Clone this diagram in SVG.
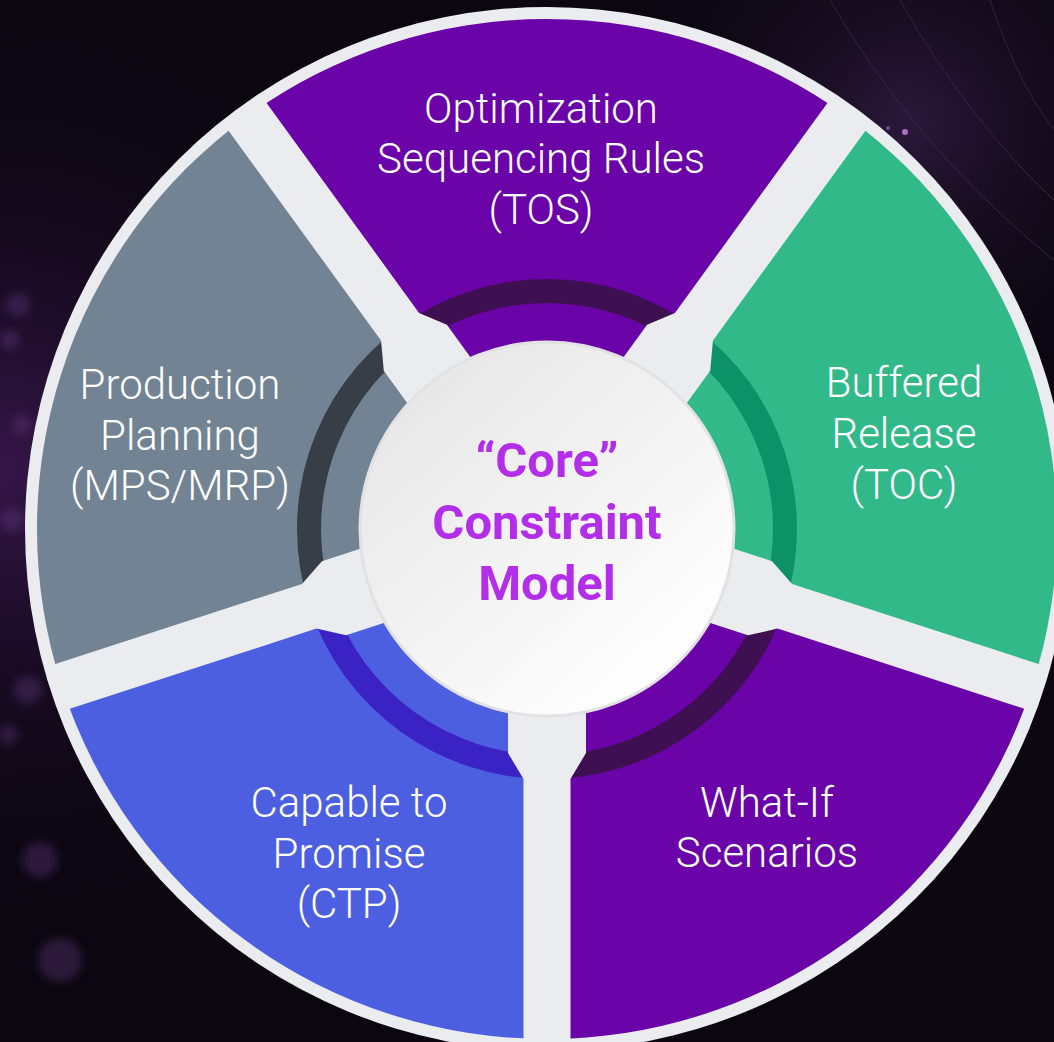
<svg xmlns="http://www.w3.org/2000/svg" width="1054" height="1042" viewBox="0 0 1054 1042">
  <defs>
    <radialGradient id="glowL" cx="0" cy="0.45" r="0.45">
      <stop offset="0" stop-color="#3a1850" stop-opacity="0.9"/>
      <stop offset="1" stop-color="#0b0610" stop-opacity="0"/>
    </radialGradient>
    <radialGradient id="glowTR" cx="0.86" cy="0.12" r="0.3">
      <stop offset="0" stop-color="#2e1a3e" stop-opacity="0.9"/>
      <stop offset="1" stop-color="#0b0610" stop-opacity="0"/>
    </radialGradient>
    <linearGradient id="hubGrad" x1="0.15" y1="0.1" x2="0.85" y2="0.9">
      <stop offset="0" stop-color="#e7e7e8"/>
      <stop offset="1" stop-color="#ffffff"/>
    </linearGradient>
    <filter id="blur" x="-50%" y="-50%" width="200%" height="200%">
      <feGaussianBlur stdDeviation="4"/>
    </filter>
  </defs>
  <style>
    .label { font-family: Roboto, "Liberation Sans", sans-serif; font-weight: 300; font-size: 42px; fill: #ffffff; text-anchor: middle; }
    .core { font-family: Roboto, "Liberation Sans", sans-serif; font-weight: 700; font-size: 49px; fill: #b22ee8; text-anchor: middle; }
    .spoke { fill: #ebecef; }
    .bokeh { fill: #6a3c8a; opacity: 0.35; filter: url(#blur); }
  </style>

  <!-- background -->
  <rect x="0" y="0" width="1054" height="1042" fill="#0b0610"/>
  <rect x="0" y="0" width="1054" height="1042" fill="url(#glowL)"/>
  <rect x="0" y="0" width="1054" height="1042" fill="url(#glowTR)"/>
  <g id="bokeh">
    <circle class="bokeh" cx="18" cy="305" r="12"/>
    <circle class="bokeh" cx="10" cy="340" r="10"/>
    <circle class="bokeh" cx="105" cy="360" r="12"/>
    <circle class="bokeh" cx="22" cy="425" r="10"/>
    <circle class="bokeh" cx="12" cy="520" r="12"/>
    <circle class="bokeh" cx="28" cy="690" r="14"/>
    <circle class="bokeh" cx="8" cy="735" r="10"/>
    <circle class="bokeh" cx="40" cy="860" r="18" opacity="0.2"/>
    <circle class="bokeh" cx="60" cy="960" r="22" opacity="0.15"/>
    <circle cx="905" cy="132" r="3" fill="#c98ae8" opacity="0.8"/>
    <circle cx="888" cy="128" r="2" fill="#a070c8" opacity="0.6"/>
  </g>
  <g id="streaks" fill="none" stroke="#3a2a4c" stroke-width="1.2" opacity="0.6">
    <path d="M830 0 C 900 120, 980 200, 1054 260"/>
    <path d="M900 0 C 950 90, 1010 160, 1054 200"/>
    <path d="M990 0 C 1010 60, 1030 100, 1054 130"/>
  </g>

  <!-- wheel base -->
  <circle id="wheel" cx="547" cy="529" r="522" fill="#ebecef"/>

  <!-- segments -->
  <g id="node-tos">
    <path d="M547 529 L247.23 116.40 A510 510 0 0 1 846.77 116.40 Z" fill="#6a04a8"/>
    <path d="M400.05 326.75 A250 250 0 0 1 693.95 326.75 L679.84 346.16 A226 226 0 0 0 414.16 346.16 Z" fill="#3e1052"/>
    <text class="label" x="541" y="123">Optimization</text>
    <text class="label" x="541" y="173">Sequencing Rules</text>
    <text class="label" x="541" y="224">(TOS)</text>
  </g>
  <g id="node-toc">
    <path d="M547 529 L846.77 116.40 A510 510 0 0 1 1032.04 686.60 Z" fill="#32b98a"/>
    <path d="M693.95 326.75 A250 250 0 0 1 784.76 606.25 L761.94 598.84 A226 226 0 0 0 679.84 346.16 Z" fill="#0d9166"/>
    <text class="label" x="904" y="397">Buffered</text>
    <text class="label" x="904" y="448">Release</text>
    <text class="label" x="904" y="499">(TOC)</text>
  </g>
  <g id="node-whatif">
    <path d="M547 529 L1032.04 686.60 A510 510 0 0 1 547 1039 Z" fill="#6a04a8"/>
    <path d="M784.76 606.25 A250 250 0 0 1 547 779 L547 755 A226 226 0 0 0 761.94 598.84 Z" fill="#3e1052"/>
    <text class="label" x="767" y="817">What-If</text>
    <text class="label" x="767" y="867">Scenarios</text>
  </g>
  <g id="node-ctp">
    <path d="M547 529 L547 1039 A510 510 0 0 1 61.96 686.60 Z" fill="#4c5fe0"/>
    <path d="M547 779 A250 250 0 0 1 309.24 606.25 L332.06 598.84 A226 226 0 0 0 547 755 Z" fill="#3b22c4"/>
    <text class="label" x="349" y="817">Capable to</text>
    <text class="label" x="349" y="868">Promise</text>
    <text class="label" x="349" y="918">(CTP)</text>
  </g>
  <g id="node-mps">
    <path d="M547 529 L61.96 686.60 A510 510 0 0 1 247.23 116.40 Z" fill="#728394"/>
    <path d="M309.24 606.25 A250 250 0 0 1 400.05 326.75 L414.16 346.16 A226 226 0 0 0 332.06 598.84 Z" fill="#383e46"/>
    <text class="label" x="180" y="399">Production</text>
    <text class="label" x="180" y="450">Planning</text>
    <text class="label" x="180" y="500">(MPS/MRP)</text>
  </g>

  <!-- spokes (separators) -->
  <g id="spokes" transform="translate(547 529)">
    <polygon class="spoke" points="0,-39 224,-39 250,-23.5 515,-23.5 515,23.5 250,23.5 224,39 0,39" transform="rotate(-126)"/>
    <polygon class="spoke" points="0,-39 224,-39 250,-23.5 515,-23.5 515,23.5 250,23.5 224,39 0,39" transform="rotate(-54)"/>
    <polygon class="spoke" points="0,-39 224,-39 250,-23.5 515,-23.5 515,23.5 250,23.5 224,39 0,39" transform="rotate(18)"/>
    <polygon class="spoke" points="0,-39 224,-39 250,-23.5 515,-23.5 515,23.5 250,23.5 224,39 0,39" transform="rotate(90)"/>
    <polygon class="spoke" points="0,-39 224,-39 250,-23.5 515,-23.5 515,23.5 250,23.5 224,39 0,39" transform="rotate(162)"/>
  </g>

  <!-- hub -->
  <g id="node-core">
    <circle cx="547" cy="529" r="187" fill="url(#hubGrad)" stroke="#e2e2e4" stroke-width="3"/>
    <text class="core" x="547" y="477">“Core”</text>
    <text class="core" x="547" y="539">Constraint</text>
    <text class="core" x="547" y="600">Model</text>
  </g>
</svg>
